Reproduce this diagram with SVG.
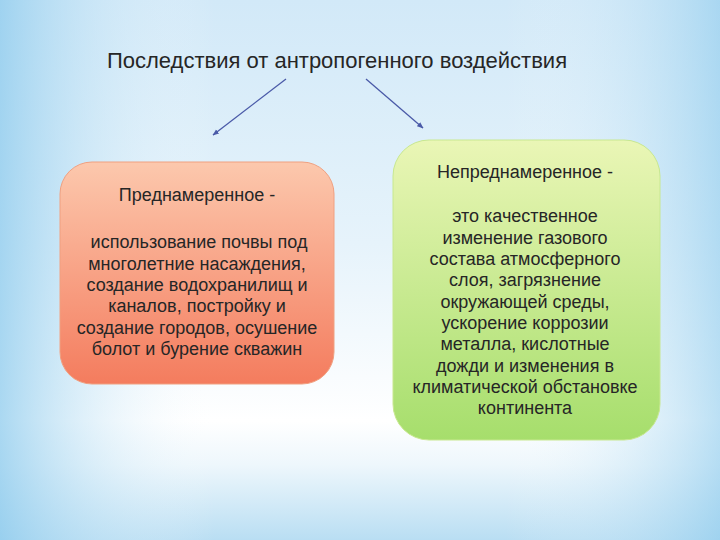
<svg xmlns="http://www.w3.org/2000/svg" width="720" height="540" viewBox="0 0 720 540">
<defs>
<linearGradient id="bgV" x1="0" y1="0" x2="0" y2="1">
<stop offset="0" stop-color="#d2e9f8"/>
<stop offset="0.45" stop-color="#e6f3fb"/>
<stop offset="0.78" stop-color="#ffffff"/>
<stop offset="0.86" stop-color="#eef7fc"/>
<stop offset="1" stop-color="#b9def3"/>
</linearGradient>
<linearGradient id="bgH" x1="0" y1="0" x2="1" y2="0">
<stop offset="0" stop-color="#8ecbed" stop-opacity="0.75"/>
<stop offset="0.3" stop-color="#ffffff" stop-opacity="0"/>
<stop offset="0.7" stop-color="#ffffff" stop-opacity="0"/>
<stop offset="1" stop-color="#8ecbed" stop-opacity="0.6"/>
</linearGradient>
<linearGradient id="gOrange" x1="0" y1="0" x2="0" y2="1">
<stop offset="0" stop-color="#fcc8ad"/>
<stop offset="1" stop-color="#f47c5e"/>
</linearGradient>
<linearGradient id="gGreen" x1="0" y1="0" x2="0" y2="1">
<stop offset="0" stop-color="#eaf6b6"/>
<stop offset="1" stop-color="#a6de6c"/>
</linearGradient>
<marker id="arr" viewBox="0 0 10 10" refX="9" refY="5" markerWidth="5" markerHeight="5" orient="auto">
<path d="M0,1 L10,5 L0,9 z" fill="#4a5aa8"/>
</marker>
<style>
.t{font-family:"Liberation Sans","DejaVu Sans",sans-serif;fill:#262626;text-anchor:middle}
.b{font-size:18px}
.conn{stroke:#4a5aa8;stroke-width:1.3;fill:none;marker-end:url(#arr)}
</style>
</defs>
<rect width="720" height="540" fill="url(#bgV)"/>
<rect width="720" height="540" fill="url(#bgH)"/>
<g id="title">
<text class="t" x="337" y="68" font-size="22">Последствия от антропогенного воздействия</text>
</g>
<g id="connectors">
<line class="conn" x1="286" y1="79" x2="213" y2="135"/>
<line class="conn" x1="366" y1="79" x2="423" y2="128"/>
</g>
<g id="node-left">
<rect x="60" y="162" width="274" height="222" rx="32" ry="32" fill="url(#gOrange)" stroke="#f0a080" stroke-width="1"/>
<text class="t b" x="197" y="201">Преднамеренное -</text>
<text class="t b" x="199" y="248">использование почвы под</text>
<text class="t b" x="197" y="270">многолетние насаждения,</text>
<text class="t b" x="197" y="291">создание водохранилищ и</text>
<text class="t b" x="197" y="312">каналов, постройку и</text>
<text class="t b" x="197" y="334">создание городов, осушение</text>
<text class="t b" x="197" y="355">болот и бурение скважин</text>
</g>
<g id="node-right">
<rect x="393" y="140" width="267" height="300" rx="36" ry="36" fill="url(#gGreen)" stroke="#c8e890" stroke-width="1"/>
<text class="t b" x="525" y="178">Непреднамеренное -</text>
<text class="t b" x="525" y="222">это качественное</text>
<text class="t b" x="525" y="244">изменение газового</text>
<text class="t b" x="525" y="265">состава атмосферного</text>
<text class="t b" x="525" y="286">слоя, загрязнение</text>
<text class="t b" x="525" y="308">окружающей среды,</text>
<text class="t b" x="525" y="329">ускорение коррозии</text>
<text class="t b" x="525" y="350">металла, кислотные</text>
<text class="t b" x="525" y="372">дожди и изменения в</text>
<text class="t b" x="525" y="393">климатической обстановке</text>
<text class="t b" x="525" y="414">континента</text>
</g>
</svg>
